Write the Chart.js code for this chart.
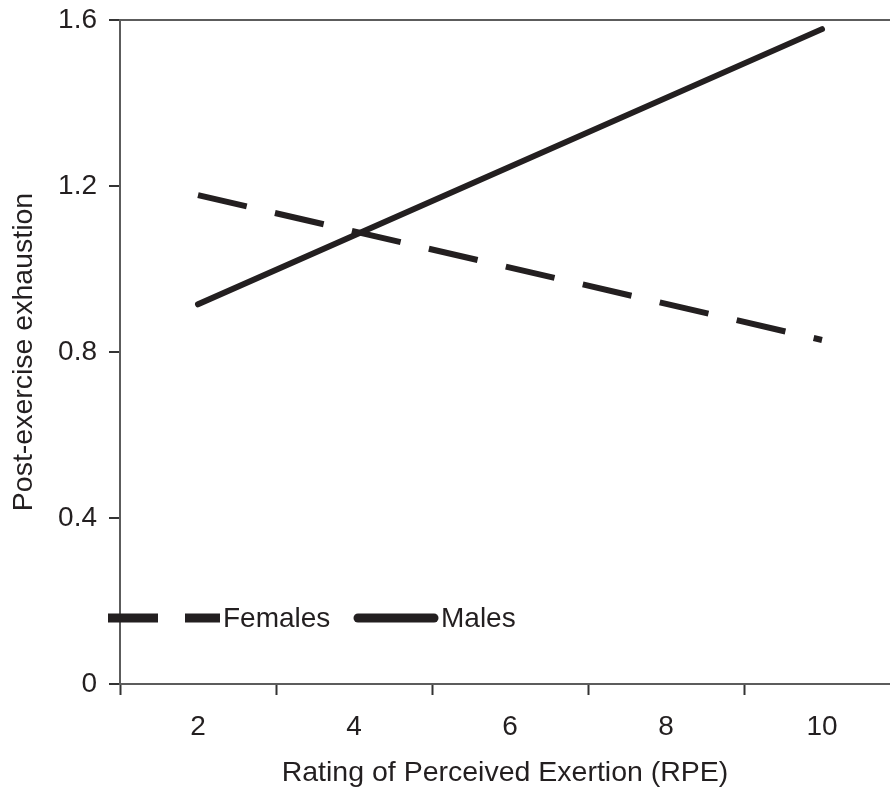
<!DOCTYPE html>
<html>
<head>
<meta charset="utf-8">
<script src="https://cdn.jsdelivr.net/npm/chart.js@4/dist/chart.umd.min.js"></script>
<style>
  html, body { margin: 0; padding: 0; background: #fff; }
  canvas { display: block; }
</style>
</head>
<body>
<canvas id="myChart" width="890" height="791"></canvas>
<script>
// data
const rpe = [2, 10];
const females = [1.178, 0.829];
const males = [0.915, 1.578];
const xTicks = [1, 2, 3, 4, 5, 6, 7, 8, 9, 10];
const yTicks = [0, 0.4, 0.8, 1.2, 1.6];
const seriesNames = ["Females", "Males"];

const ink = '#231f20';
const axisGray = '#5c5c5c';
const fontFamily = "'Liberation Sans', Arial, Helvetica, sans-serif";

const ctx = document.getElementById('myChart');

// legend sits inside the plot, drawn by hand
const insideLegend = {
  id: 'insideLegend',
  afterDatasetsDraw(chart) {
    const c = chart.ctx;
    const left = chart.chartArea.left;
    const y = 618;
    c.save();
    c.strokeStyle = ink;
    c.lineWidth = 9;
    // Females, dashed
    c.setLineDash([50, 27]);
    c.lineCap = 'butt';
    c.beginPath();
    c.moveTo(left - 12, y);
    c.lineTo(left + 100, y);
    c.stroke();
    // Males, solid
    c.setLineDash([]);
    c.lineCap = 'round';
    c.beginPath();
    c.moveTo(left + 238, y);
    c.lineTo(left + 314, y);
    c.stroke();
    c.fillStyle = ink;
    c.font = '28px ' + fontFamily;
    c.textBaseline = 'middle';
    c.fillText(chart.data.datasets[0].label, left + 103, y + 1);
    c.fillText(chart.data.datasets[1].label, left + 321, y + 1);
    c.restore();
  }
};

new Chart(ctx, {
  type: 'line',
  data: {
    datasets: [{
      label: seriesNames[0],
      data: rpe.map((x, i) => ({ x: x, y: females[i] })),
      borderColor: ink,
      borderWidth: 6,
      borderDash: [50, 29],
      borderCapStyle: 'butt',
      pointRadius: 0,
      tension: 0
    }, {
      label: seriesNames[1],
      data: rpe.map((x, i) => ({ x: x, y: males[i] })),
      borderColor: ink,
      borderWidth: 6,
      borderCapStyle: 'round',
      pointRadius: 0,
      tension: 0
    }]
  },
  options: {
    responsive: false,
    animation: false,
    layout: { padding: { top: 20, right: 0, left: 0, bottom: 0 } },
    plugins: {
      legend: { display: false },
      tooltip: { enabled: false }
    },
    scales: {
      x: {
        type: 'linear',
        min: 1,
        max: 1 + 770 / 78,
        afterBuildTicks: axis => { axis.ticks = xTicks.map(v => ({ value: v })); },
        afterFit: scale => {
          scale.height = 107;
          scale.paddingLeft = 0;
          scale.paddingRight = 0;
        },
        border: { color: axisGray, width: 2 },
        grid: {
          drawOnChartArea: false,
          tickLength: 11,
          tickWidth: 2,
          tickColor: c => (c.tick && c.tick.value % 2 === 1) ? '#333' : 'rgba(0,0,0,0)'
        },
        ticks: {
          autoSkip: false,
          maxRotation: 0,
          padding: 15,
          color: ink,
          font: { family: fontFamily, size: 28 },
          callback: v => (v % 2 === 0) ? String(v) : ''
        },
        title: {
          display: true,
          text: 'Rating of Perceived Exertion (RPE)',
          color: ink,
          font: { family: fontFamily, size: 28.5 },
          padding: { top: 0, bottom: 1 }
        }
      },
      y: {
        min: 0,
        max: 1.6,
        afterBuildTicks: axis => { axis.ticks = yTicks.map(v => ({ value: v })); },
        afterFit: scale => {
          scale.width = 120;
          scale.paddingTop = 0;
          scale.paddingBottom = 0;
        },
        border: { color: axisGray, width: 2 },
        grid: {
          color: c => (c.tick && c.tick.value === 1.6) ? axisGray : 'rgba(0,0,0,0)',
          lineWidth: 2,
          tickLength: 11,
          tickWidth: 2,
          tickColor: '#333'
        },
        ticks: {
          padding: 12,
          color: ink,
          font: { family: fontFamily, size: 28 },
          callback: v => String(v)
        },
        title: {
          display: true,
          text: 'Post-exercise exhaustion',
          color: ink,
          font: { family: fontFamily, size: 28.5 },
          padding: { top: 7, bottom: 0 }
        }
      }
    }
  },
  plugins: [insideLegend]
});
</script>
</body>
</html>
